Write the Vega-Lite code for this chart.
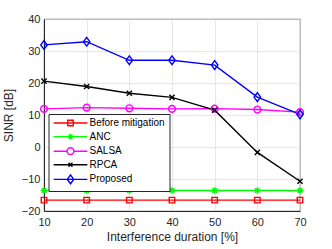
{
  "$schema": "https://vega.github.io/schema/vega-lite/v6.json",
  "width": 256,
  "height": 192,
  "autosize": "none",
  "padding": {"left": 44, "top": 19, "right": 32, "bottom": 38},
  "background": "white",
  "config": {
    "font": "Liberation Sans",
    "view": {"stroke": "#262626", "strokeWidth": 0.8},
    "axis": {
      "labelFont": "Liberation Sans",
      "titleFont": "Liberation Sans",
      "labelColor": "#262626",
      "titleColor": "#262626",
      "labelFontSize": 11,
      "titleFontSize": 12,
      "titleFontWeight": "normal",
      "gridColor": "#dcdcdc",
      "gridWidth": 0.7,
      "domainColor": "#262626",
      "ticks": false,
      "labelFlush": false
    },
    "legend": {
      "title": null,
      "orient": "none",
      "legendX": 4.5,
      "legendY": 95,
      "padding": 4,
      "fillColor": "white",
      "strokeColor": "#262626",
      "labelFont": "Liberation Sans",
      "labelFontSize": 10,
      "labelColor": "#000000",
      "symbolSize": 42,
      "symbolStrokeWidth": 1.4,
      "symbolOffset": 13,
      "labelOffset": 14,
      "rowPadding": 1.6
    }
  },
  "data": {
    "values": [
      {"d": 10, "s": "Before mitigation", "v": -16.6},
      {"d": 20, "s": "Before mitigation", "v": -16.6},
      {"d": 30, "s": "Before mitigation", "v": -16.6},
      {"d": 40, "s": "Before mitigation", "v": -16.6},
      {"d": 50, "s": "Before mitigation", "v": -16.6},
      {"d": 60, "s": "Before mitigation", "v": -16.6},
      {"d": 70, "s": "Before mitigation", "v": -16.6},
      {"d": 10, "s": "ANC", "v": -13.6},
      {"d": 20, "s": "ANC", "v": -13.6},
      {"d": 30, "s": "ANC", "v": -13.6},
      {"d": 40, "s": "ANC", "v": -13.6},
      {"d": 50, "s": "ANC", "v": -13.6},
      {"d": 60, "s": "ANC", "v": -13.6},
      {"d": 70, "s": "ANC", "v": -13.6},
      {"d": 10, "s": "SALSA", "v": 11.9},
      {"d": 20, "s": "SALSA", "v": 12.3},
      {"d": 30, "s": "SALSA", "v": 12.1},
      {"d": 40, "s": "SALSA", "v": 11.9},
      {"d": 50, "s": "SALSA", "v": 12.0},
      {"d": 60, "s": "SALSA", "v": 11.7},
      {"d": 70, "s": "SALSA", "v": 10.9},
      {"d": 10, "s": "RPCA", "v": 20.6},
      {"d": 20, "s": "RPCA", "v": 18.9},
      {"d": 30, "s": "RPCA", "v": 16.8},
      {"d": 40, "s": "RPCA", "v": 15.5},
      {"d": 50, "s": "RPCA", "v": 11.5},
      {"d": 60, "s": "RPCA", "v": -1.7},
      {"d": 70, "s": "RPCA", "v": -10.7},
      {"d": 10, "s": "Proposed", "v": 31.9},
      {"d": 20, "s": "Proposed", "v": 32.9},
      {"d": 30, "s": "Proposed", "v": 27.1},
      {"d": 40, "s": "Proposed", "v": 27.1},
      {"d": 50, "s": "Proposed", "v": 25.6},
      {"d": 60, "s": "Proposed", "v": 15.6},
      {"d": 70, "s": "Proposed", "v": 10.2}
    ]
  },
  "encoding": {
    "x": {
      "field": "d",
      "type": "quantitative",
      "scale": {"domain": [10, 70], "nice": false, "zero": false},
      "axis": {"values": [10, 20, 30, 40, 50, 60, 70], "title": "Interference duration [%]", "labelPadding": 5, "titlePadding": 4}
    },
    "y": {
      "field": "v",
      "type": "quantitative",
      "scale": {"domain": [-20, 40], "nice": false, "zero": false},
      "axis": {"values": [-20, -10, 0, 10, 20, 30, 40], "title": "SINR [dB]", "labelPadding": 4, "titlePadding": 6}
    },
    "color": {
      "field": "s",
      "type": "nominal",
      "sort": null,
      "scale": {
        "domain": ["Before mitigation", "ANC", "SALSA", "RPCA", "Proposed"],
        "range": ["#ff0000", "#00ff00", "#ff00ff", "#000000", "#0000ff"]
      },
      "legend": {
        "encode": {
          "symbols": {
            "update": {
              "shape": {"signal": "datum.value === 'Before mitigation' ? 'M-5.2,0H5.2M-0.85,-0.85H0.85V0.85H-0.85Z' : datum.value === 'ANC' ? 'M-5.2,0H5.2M0,-0.8V0.8M-0.6,-0.6L0.6,0.6M-0.6,0.6L0.6,-0.6' : datum.value === 'SALSA' ? 'M-5.2,0H-1.05M1.05,0H5.2M-1.05,0A1.05,1.05 0 1,0 1.05,0A1.05,1.05 0 1,0 -1.05,0Z' : datum.value === 'RPCA' ? 'M-5.2,0H5.2M-0.6,-0.6L0.6,0.6M-0.6,0.6L0.6,-0.6' : 'M-5.2,0H5.2M0,-1.35L1,0L0,1.35L-1,0Z'"},
              "fill": {"value": "transparent"},
              "stroke": {"scale": "color", "field": "value"},
              "strokeWidth": {"value": 1.4},
              "opacity": {"value": 1}
            }
          }
        }
      }
    }
  },
  "layer": [
    {
      "mark": {"type": "line", "strokeWidth": 1.4}
    },
    {
      "transform": [{"filter": "datum.s === 'Before mitigation'"}],
      "mark": {"type": "point", "filled": false, "strokeWidth": 1.4, "size": 42, "opacity": 1, "shape": "M-0.85,-0.85H0.85V0.85H-0.85Z"}
    },
    {
      "transform": [{"filter": "datum.s === 'ANC'"}],
      "mark": {"type": "point", "filled": false, "strokeWidth": 1.4, "size": 42, "opacity": 1, "shape": "M-1,0H1M0,-1V1M-0.7,-0.7L0.7,0.7M-0.7,0.7L0.7,-0.7"}
    },
    {
      "transform": [{"filter": "datum.s === 'SALSA'"}],
      "mark": {"type": "point", "filled": false, "strokeWidth": 1.4, "size": 42, "opacity": 1, "shape": "M-1.05,0A1.05,1.05 0 1,0 1.05,0A1.05,1.05 0 1,0 -1.05,0Z"}
    },
    {
      "transform": [{"filter": "datum.s === 'RPCA'"}],
      "mark": {"type": "point", "filled": false, "strokeWidth": 1.4, "size": 42, "opacity": 1, "shape": "M-0.8,-0.8L0.8,0.8M-0.8,0.8L0.8,-0.8"}
    },
    {
      "transform": [{"filter": "datum.s === 'Proposed'"}],
      "mark": {"type": "point", "filled": false, "strokeWidth": 1.4, "size": 42, "opacity": 1, "shape": "M0,-1.35L1,0L0,1.35L-1,0Z"}
    }
  ]
}
